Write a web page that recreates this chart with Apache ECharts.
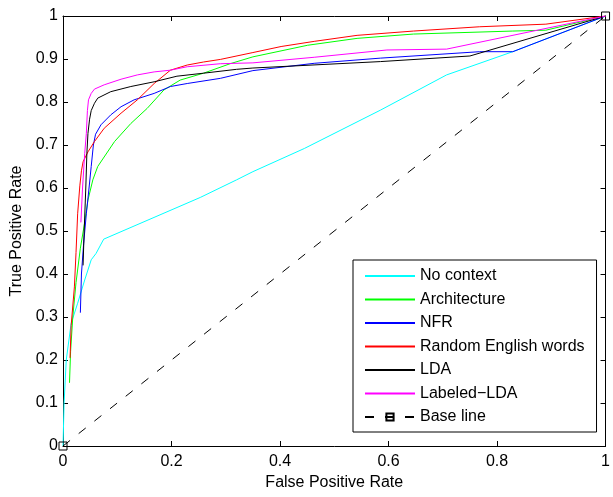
<!DOCTYPE html>
<html>
<head>
<meta charset="utf-8">
<script src="https://cdn.jsdelivr.net/npm/echarts@6/dist/echarts.min.js"></script>
<style>
html, body { margin:0; padding:0; background:#fff; }
#chart { width:613px; height:497px; }
</style>
</head>
<body>
<div id="chart"></div>
<script>
// ROC curves, values as [FPR, TPR]
var seriesNames = ['No context', 'Architecture', 'NFR', 'Random English words', 'LDA', 'Labeled\u2212LDA', 'Base line'];
var seriesColors = ['#00ffff', '#00ff00', '#0000ff', '#ff0000', '#000000', '#ff00ff', '#000000'];

var noContext = [[0,0],[0.002,0.1],[0.006,0.2],[0.015,0.285],[0.027,0.332],[0.04,0.386],[0.052,0.433],[0.061,0.448],[0.075,0.481],[0.253,0.578],[0.32,0.619],[0.35,0.638],[0.445,0.692],[0.585,0.781],[0.707,0.863],[0.829,0.917],[1,1]];
var architecture = [[0.012,0.147],[0.014,0.22],[0.018,0.3],[0.024,0.38],[0.032,0.46],[0.04,0.52],[0.046,0.572],[0.055,0.619],[0.064,0.65],[0.095,0.708],[0.125,0.75],[0.155,0.785],[0.186,0.828],[0.216,0.851],[0.259,0.867],[0.308,0.889],[0.35,0.905],[0.451,0.932],[0.542,0.948],[0.646,0.958],[0.829,0.965],[0.89,0.967],[1,1]];
var nfr = [[0.032,0.31],[0.034,0.4],[0.038,0.47],[0.043,0.54],[0.048,0.6],[0.052,0.65],[0.056,0.7],[0.06,0.725],[0.07,0.747],[0.088,0.77],[0.107,0.789],[0.131,0.805],[0.168,0.82],[0.198,0.836],[0.229,0.843],[0.29,0.855],[0.35,0.873],[0.463,0.89],[0.585,0.902],[0.768,0.917],[0.829,0.917],[1,1]];
var randomWords = [[0.013,0.205],[0.015,0.28],[0.021,0.37],[0.024,0.45],[0.027,0.54],[0.031,0.605],[0.034,0.64],[0.037,0.661],[0.046,0.684],[0.058,0.708],[0.076,0.739],[0.107,0.774],[0.137,0.805],[0.168,0.843],[0.198,0.874],[0.229,0.886],[0.259,0.893],[0.29,0.899],[0.35,0.915],[0.402,0.929],[0.463,0.941],[0.542,0.955],[0.646,0.965],[0.768,0.975],[0.89,0.981],[1,1]];
var lda = [[0.037,0.42],[0.039,0.5],[0.042,0.6],[0.044,0.68],[0.046,0.727],[0.049,0.76],[0.052,0.78],[0.058,0.797],[0.064,0.809],[0.088,0.824],[0.125,0.836],[0.168,0.847],[0.21,0.86],[0.259,0.867],[0.32,0.876],[0.35,0.879],[0.585,0.894],[0.75,0.907],[1,1]];
var labeledLda = [[0.033,0.52],[0.036,0.6],[0.04,0.68],[0.043,0.727],[0.045,0.78],[0.047,0.805],[0.052,0.82],[0.058,0.83],[0.076,0.84],[0.107,0.853],[0.137,0.863],[0.168,0.87],[0.198,0.874],[0.229,0.882],[0.29,0.889],[0.35,0.891],[0.463,0.904],[0.597,0.921],[0.707,0.923],[1,1]];
var baseLine = [[0,0],[1,1]];

var curves = [noContext, architecture, nfr, randomWords, lda, labeledLda];

var FONT = "'Liberation Sans', Arial, Helvetica, sans-serif";

var chart = echarts.init(document.getElementById('chart'));

var series = [];
var legendData = [];
for (var i = 0; i < curves.length; i++) {
	series.push({
		name: seriesNames[i],
		type: 'line',
		data: curves[i],
		symbol: 'none',
		smooth: false,
		lineStyle: { color: seriesColors[i], width: 1 },
		itemStyle: { color: seriesColors[i] },
		z: 2 + i
	});
	// plain line in the legend, no marker
	legendData.push({ name: seriesNames[i], itemStyle: { opacity: 0 } });
}
series.push({
	name: seriesNames[6],
	type: 'line',
	data: baseLine,
	symbol: 'rect',
	symbolSize: 8,
	showSymbol: true,
	clip: false,
	lineStyle: { color: '#000', width: 1, type: [9, 11] },
	itemStyle: { color: 'rgba(0,0,0,0)', borderColor: '#000', borderWidth: 1 },
	z: 10
});
legendData.push({ name: seriesNames[6] });

function frameAxis(pos, isX) {
	// MATLAB style box: ticks inside on all four sides
	return {
		type: 'value',
		position: pos,
		min: 0,
		max: 1,
		interval: isX ? 0.2 : 0.1,
		axisLine: { show: true, onZero: false, lineStyle: { color: '#000', width: 1 } },
		axisTick: { show: true, inside: true, length: 5, lineStyle: { color: '#000' } },
		axisLabel: { show: false },
		splitLine: { show: false }
	};
}

var xMain = frameAxis('bottom', true);
xMain.axisLabel = { show: true, color: '#000', fontSize: 16, fontFamily: FONT, margin: 8 };
xMain.name = 'False Positive Rate';
xMain.nameLocation = 'middle';
xMain.nameGap = 27;
xMain.nameTextStyle = { color: '#000', fontSize: 16, fontFamily: FONT };

var yMain = frameAxis('left', false);
yMain.axisLabel = { show: true, color: '#000', fontSize: 16, fontFamily: FONT, margin: 5 };
yMain.name = 'True Positive Rate';
yMain.nameLocation = 'middle';
yMain.nameGap = 35;
yMain.nameTextStyle = { color: '#000', fontSize: 16, fontFamily: FONT };

var option = {
	animation: false,
	backgroundColor: '#fff',
	grid: { left: 63, right: 3, top: 16, bottom: 51, containLabel: false },
	xAxis: [xMain, frameAxis('top', true)],
	yAxis: [yMain, frameAxis('right', false)],
	legend: {
		orient: 'vertical',
		left: 353,
		top: 260,
		data: legendData,
		itemWidth: 50,
		itemHeight: 9,
		itemGap: 7.5,
		padding: [8, 12, 7, 11],
		backgroundColor: '#fff',
		borderColor: '#000',
		borderWidth: 1,
		textStyle: { color: '#000', fontSize: 16, fontFamily: FONT }
	},
	series: series
};

chart.setOption(option);
</script>
</body>
</html>
